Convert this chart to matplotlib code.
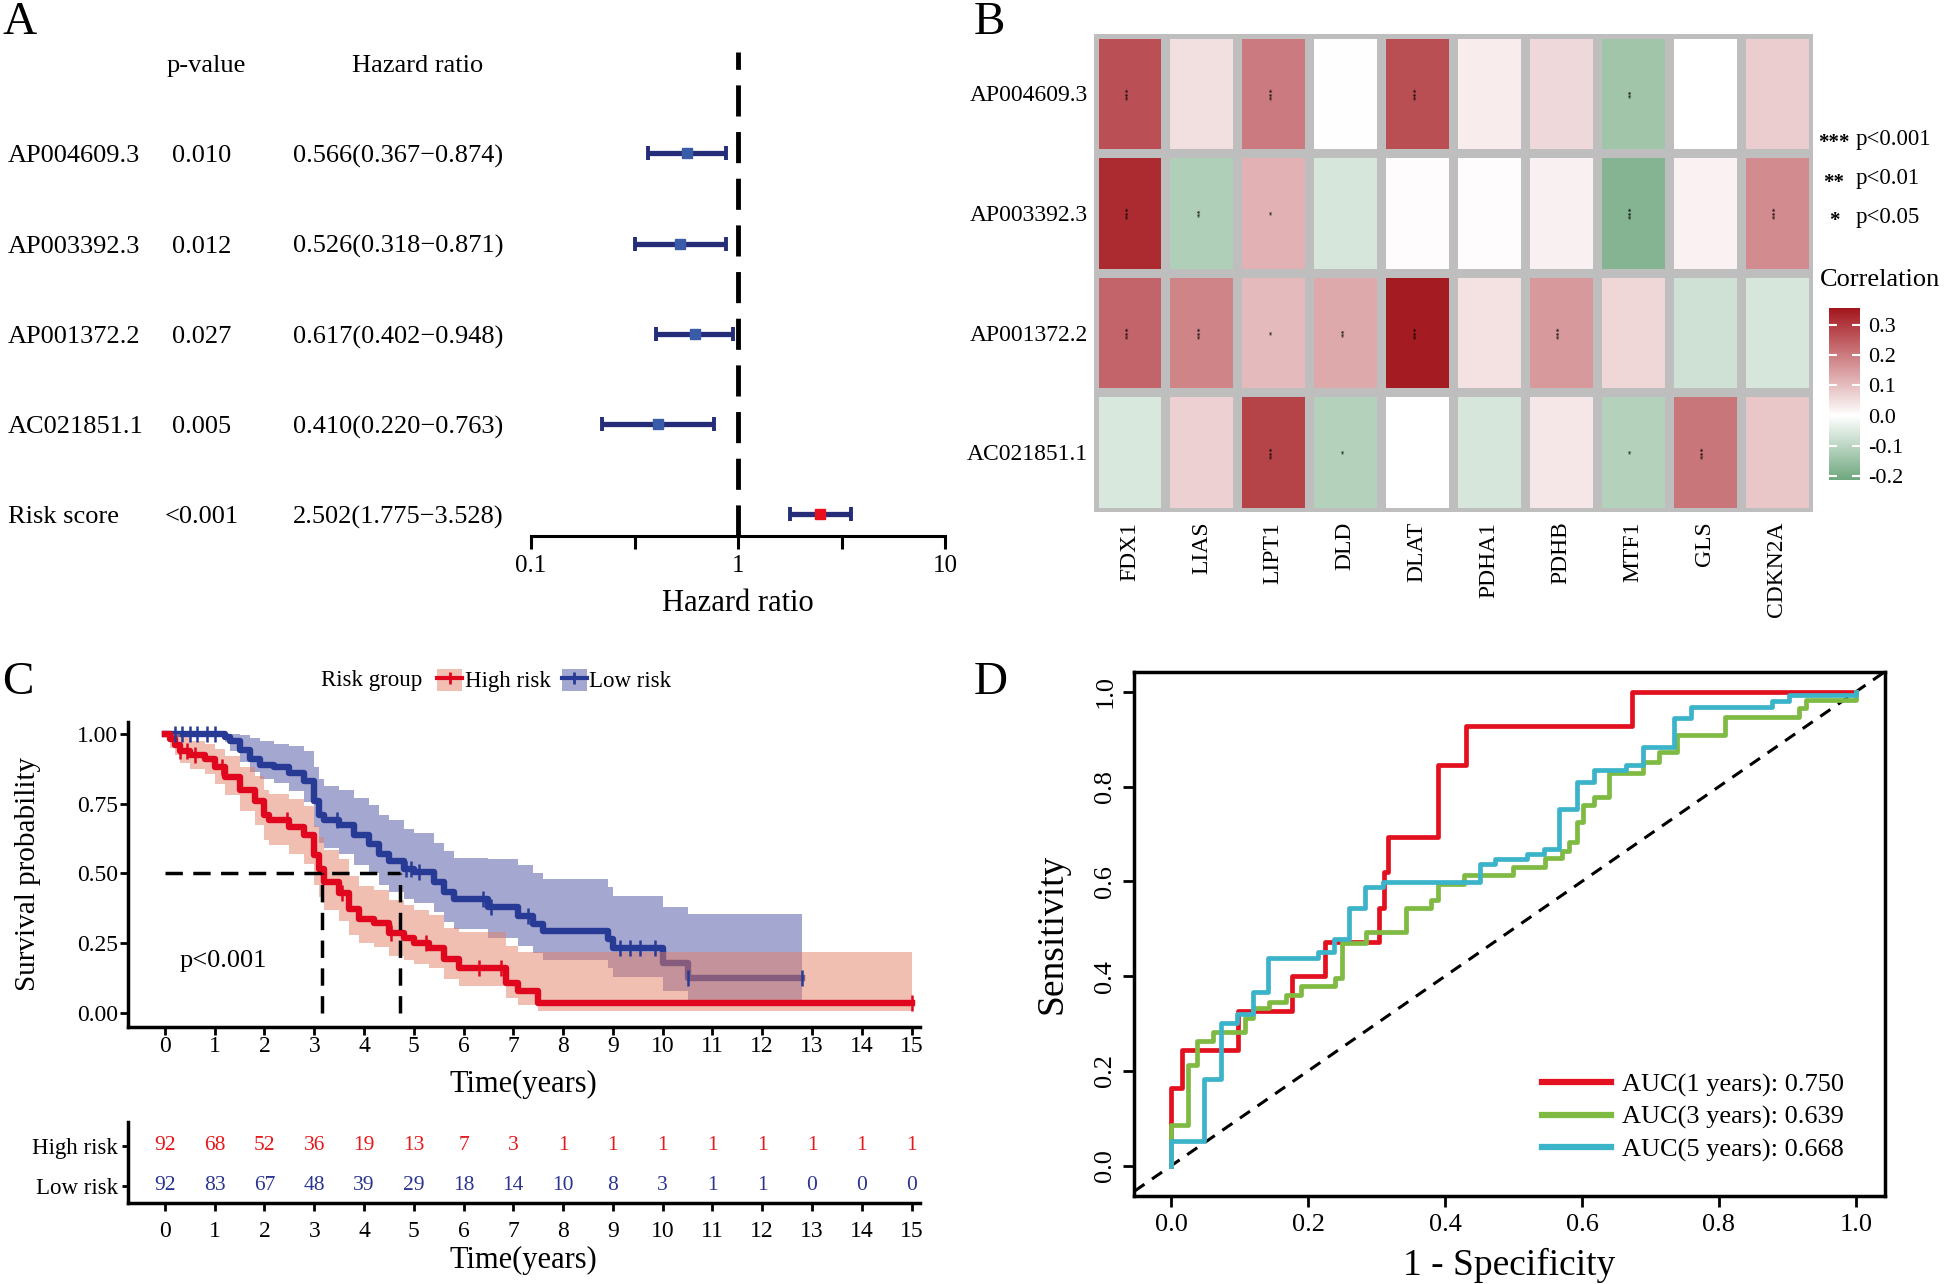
import matplotlib
matplotlib.use('Agg')
import matplotlib.pyplot as plt
import matplotlib.transforms as mtransforms
from matplotlib.colors import LinearSegmentedColormap, Normalize
from matplotlib.cm import ScalarMappable
from matplotlib.patches import Patch
from matplotlib.lines import Line2D
from matplotlib.ticker import FixedLocator, FixedFormatter, NullFormatter
import numpy as np

plt.rcParams['font.family'] = ['Liberation Serif', 'DejaVu Serif']

# ---------------- data ----------------
# A: multivariate Cox forest plot
forest_genes = ['AP004609.3', 'AP003392.3', 'AP001372.2', 'AC021851.1', 'Risk score']
forest_p = ['0.010', '0.012', '0.027', '0.005', '<0.001']
hr = [0.566, 0.526, 0.617, 0.410, 2.502]
hr_lo = [0.367, 0.318, 0.402, 0.220, 1.775]
hr_hi = [0.874, 0.871, 0.948, 0.763, 3.528]

# B: correlation heatmap
row_genes = ['AP004609.3', 'AP003392.3', 'AP001372.2', 'AC021851.1']
col_genes = ['FDX1', 'LIAS', 'LIPT1', 'DLD', 'DLAT', 'PDHA1', 'PDHB', 'MTF1', 'GLS', 'CDKN2A']
corr = np.array([
    [0.267, 0.049, 0.200, 0.003, 0.270, 0.029, 0.060, -0.140, 0.000, 0.076],
    [0.323, -0.116, 0.119, -0.060, 0.005, 0.005, 0.023, -0.180, 0.020, 0.175],
    [0.236, 0.188, 0.105, 0.131, 0.346, 0.044, 0.156, 0.062, -0.070, -0.060],
    [-0.055, 0.072, 0.284, -0.110, 0.000, -0.060, 0.038, -0.110, 0.209, 0.088],
])
stars = [
    ['***', '', '***', '', '***', '', '', '**', '', ''],
    ['***', '**', '*', '', '', '', '', '***', '', '***'],
    ['***', '***', '*', '**', '***', '', '***', '', '', ''],
    ['', '', '***', '*', '', '', '', '*', '***', ''],
]

# C: Kaplan-Meier
high_t = [0, 0.1, 0.2, 0.3, 0.5, 0.8, 1.0, 1.2, 1.5, 1.8, 2.0, 2.1, 2.5, 2.8, 3.0, 3.1,
          3.2, 3.5, 3.7, 3.9, 4.2, 4.5, 4.8, 5.0, 5.3, 5.6, 5.9, 6.85, 7.1, 7.5, 15.0]
high_s = [1.0, 0.98, 0.96, 0.94, 0.925, 0.91, 0.88, 0.846, 0.80, 0.76, 0.71, 0.69, 0.666, 0.636,
          0.565, 0.517, 0.47, 0.43, 0.372, 0.336, 0.324, 0.288, 0.27, 0.252, 0.234, 0.192, 0.162,
          0.108, 0.078, 0.036, 0.036]
high_up = [1.0, 1.0, 1.0, 0.99, 0.975, 0.965, 0.945, 0.92, 0.88, 0.85, 0.80, 0.785, 0.765, 0.74,
           0.67, 0.63, 0.585, 0.55, 0.49, 0.455, 0.44, 0.405, 0.385, 0.37, 0.35, 0.305, 0.29,
           0.24, 0.22, 0.218, 0.218]
high_lo = [1.0, 0.95, 0.925, 0.895, 0.875, 0.855, 0.82, 0.78, 0.725, 0.675, 0.62, 0.60, 0.57,
           0.535, 0.46, 0.415, 0.37, 0.33, 0.28, 0.25, 0.235, 0.205, 0.19, 0.175, 0.16, 0.12,
           0.095, 0.055, 0.03, 0.006, 0.006]
low_t = [0, 1.2, 1.3, 1.5, 1.7, 1.9, 2.2, 2.5, 2.8, 3.0, 3.1, 3.2, 3.5, 3.8, 4.1, 4.3, 4.5,
         4.8, 5.0, 5.4, 5.6, 5.8, 6.5, 7.1, 7.4, 7.6, 8.9, 9.0, 10.0, 10.5, 12.8]
low_s = [1.0, 0.99, 0.973, 0.942, 0.91, 0.89, 0.88, 0.86, 0.83, 0.76, 0.71, 0.69, 0.673, 0.636,
         0.606, 0.57, 0.546, 0.516, 0.504, 0.468, 0.432, 0.408, 0.378, 0.348, 0.318, 0.294,
         0.264, 0.234, 0.18, 0.126, 0.126]
low_up = [1.0, 1.0, 1.0, 0.995, 0.985, 0.975, 0.965, 0.955, 0.94, 0.88, 0.84, 0.815, 0.80,
          0.77, 0.745, 0.71, 0.69, 0.66, 0.645, 0.61, 0.58, 0.555, 0.55, 0.53, 0.50, 0.48,
          0.45, 0.42, 0.38, 0.355, 0.355]
low_lo = [1.0, 0.97, 0.94, 0.90, 0.865, 0.84, 0.825, 0.795, 0.755, 0.665, 0.61, 0.59, 0.57,
          0.53, 0.50, 0.46, 0.435, 0.41, 0.395, 0.36, 0.325, 0.30, 0.27, 0.24, 0.215, 0.19,
          0.16, 0.13, 0.08, 0.036, 0.036]
high_cens = [0.3, 0.45, 0.6, 1.15, 2.45, 3.55, 4.55, 5.25, 6.3, 6.75, 15.0]
low_cens = [0.2, 0.35, 0.5, 0.65, 0.85, 1.0, 3.45, 4.85, 4.95, 5.1, 6.4, 6.55, 7.3,
            9.15, 9.35, 9.55, 9.85, 10.5, 12.8]
median_high, median_low = 3.15, 4.73
table_times = list(range(16))
high_risk_n = [92, 68, 52, 36, 19, 13, 7, 3, 1, 1, 1, 1, 1, 1, 1, 1]
low_risk_n = [92, 83, 67, 48, 39, 29, 18, 14, 10, 8, 3, 1, 1, 0, 0, 0]

# D: time-dependent ROC (step corners)
roc1_x = [0, 0.016, 0.097, 0.177, 0.225, 0.304, 0.311, 0.316, 0.39, 0.431, 0.673, 1.0]
roc1_y = [0, 0.164, 0.243, 0.326, 0.40, 0.472, 0.543, 0.619, 0.693, 0.846, 0.927, 1.0]
roc3_x = [0, 0.025, 0.037, 0.061, 0.108, 0.119, 0.143, 0.168, 0.189, 0.239, 0.249, 0.285,
          0.343, 0.38, 0.39, 0.428, 0.499, 0.546, 0.571, 0.581, 0.592, 0.602, 0.617, 0.64,
          0.689, 0.712, 0.739, 0.809, 0.917, 0.927, 1.0, 1.0]
roc3_y = [0, 0.085, 0.212, 0.262, 0.282, 0.312, 0.332, 0.346, 0.361, 0.379, 0.396, 0.469,
          0.494, 0.544, 0.561, 0.594, 0.614, 0.631, 0.649, 0.664, 0.684, 0.726, 0.762, 0.779,
          0.829, 0.853, 0.873, 0.91, 0.946, 0.966, 0.982, 1.0]
roc5_x = [0, 0.048, 0.073, 0.096, 0.119, 0.141, 0.214, 0.237, 0.26, 0.283, 0.309, 0.451,
          0.473, 0.52, 0.544, 0.567, 0.592, 0.617, 0.664, 0.689, 0.735, 0.759, 0.878, 0.903,
          1.0, 1.0]
roc5_y = [0, 0.053, 0.183, 0.30, 0.321, 0.367, 0.439, 0.45, 0.478, 0.543, 0.589, 0.599,
          0.636, 0.647, 0.657, 0.669, 0.753, 0.81, 0.836, 0.846, 0.884, 0.944, 0.968, 0.98,
          0.993, 1.0]
roc_labels = ['AUC(1 years): 0.750', 'AUC(3 years): 0.639', 'AUC(5 years): 0.668']

# ---------------- figure ----------------
W, H = 1944, 1284
fig = plt.figure(figsize=(W / 100, H / 100), dpi=100)


def box(l, t, r, b):
    # pixel box -> figure rect
    return [l / W, 1 - b / H, (r - l) / W, (b - t) / H]


def fx(px):
    return px / W


def fy(py):
    return 1 - py / H


red = '#e0061d'
blue = '#263a96'
navy = '#252d78'

# panel letters
for letter, x, y in [('A', 2, 2), ('B', 974, 2), ('C', 2, 662), ('D', 974, 662)]:
    fig.text(fx(x), fy(y), letter, fontsize=34, ha='left', va='top')

# ---- A: forest plot ----
axA = fig.add_axes(box(531, 45, 945, 536))
axA.set_xscale('log')
axA.set_xlim(0.1, 10)
axA.set_ylim(0.76, 6.2)
ypos = np.arange(len(forest_genes), 0, -1)
for i, y in enumerate(ypos):
    axA.errorbar(hr[i], y, xerr=[[hr[i] - hr_lo[i]], [hr_hi[i] - hr[i]]], fmt='none',
                 ecolor=navy, elinewidth=3.8, capsize=5, capthick=2.8, zorder=3)
    mcol = '#e8101c' if forest_genes[i] == 'Risk score' else '#3a5ca8'
    axA.plot(hr[i], y, 's', color=mcol, ms=7.5, zorder=4)
axA.plot([1, 1], [0.76, 6.12], color='black', lw=3.5, ls=(0, (6.4, 3.2)), zorder=2)
for s in ['top', 'left', 'right']:
    axA.spines[s].set_visible(False)
axA.spines['bottom'].set_linewidth(2.2)
axA.xaxis.set_major_locator(FixedLocator([0.1, 1, 10]))
axA.xaxis.set_major_formatter(FixedFormatter(['0.1', '1', '10']))
axA.xaxis.set_minor_locator(FixedLocator([10 ** -0.5, 10 ** 0.5]))
axA.xaxis.set_minor_formatter(NullFormatter())
axA.tick_params(axis='x', which='both', length=9, width=2.2, direction='out', labelsize=18, pad=5)
axA.set_yticks([])
axA.set_xlabel('Hazard ratio', fontsize=22, labelpad=8)

trA = mtransforms.blended_transform_factory(fig.transFigure, axA.transData)
row_dy = -0.035  # text sits a touch below the bar centre
axA.text(fx(206), 6 + row_dy, 'p-value', transform=trA, fontsize=19, ha='center', va='center')
axA.text(fx(418), 6 + row_dy, 'Hazard ratio', transform=trA, fontsize=19, ha='center', va='center')
for i, y in enumerate(ypos):
    axA.text(fx(8), y + row_dy, forest_genes[i], transform=trA, fontsize=19, ha='left', va='center')
    axA.text(fx(202), y + row_dy, forest_p[i], transform=trA, fontsize=19, ha='center', va='center')
    axA.text(fx(293), y + row_dy, '%.3f(%.3f\u2212%.3f)' % (hr[i], hr_lo[i], hr_hi[i]),
             transform=trA, fontsize=19, ha='left', va='center')

# ---- B: heatmap ----
cvmin, cvmax = -0.212, 0.357
f0 = -cvmin / (cvmax - cvmin)
cmap = LinearSegmentedColormap.from_list('gwr', [(0, '#6fa77e'), (f0, '#ffffff'), (1, '#a3151c')])
norm = Normalize(cvmin, cvmax)

axB = fig.add_axes(box(1093.5, 33.5, 1812.6, 512))
axB.set_facecolor('#bebebe')
axB.pcolormesh(np.arange(len(col_genes) + 1), np.arange(len(row_genes) + 1), corr,
               cmap=cmap, norm=norm, edgecolors='#bebebe', linewidth=6.2)
axB.set_xlim(0, len(col_genes))
axB.set_ylim(len(row_genes), 0)
for s in axB.spines.values():
    s.set_visible(False)
axB.set_xticks(np.arange(len(col_genes)) + 0.5)
axB.set_xticklabels(col_genes, rotation=90, fontsize=17)
axB.set_yticks(np.arange(len(row_genes)) + 0.5)
axB.set_yticklabels(row_genes, fontsize=17)
axB.tick_params(axis='both', length=0)
axB.tick_params(axis='x', pad=7)
axB.tick_params(axis='y', pad=4)
for i in range(len(row_genes)):
    for j in range(len(col_genes)):
        if stars[i][j]:
            axB.text(j + 0.5, i + 0.5, stars[i][j], fontsize=6, rotation=90,
                     ha='center', va='center', color='black')

for lab, txt, y in [('***', 'p<0.001', 139), ('**', 'p<0.01', 178.5), ('*', 'p<0.05', 217)]:
    fig.text(fx(1834), fy(y + 4), lab, fontsize=15, ha='center', va='center', fontweight='bold')
    fig.text(fx(1856), fy(y), txt, fontsize=16.5, ha='left', va='center')
fig.text(fx(1820), fy(280), 'Correlation', fontsize=19, ha='left', va='center')

cax = fig.add_axes(box(1829, 307.5, 1860, 480))
cb = fig.colorbar(ScalarMappable(norm=norm, cmap=cmap), cax=cax,
                  ticks=[-0.2, -0.1, 0.0, 0.1, 0.2, 0.3])
cb.ax.set_yticklabels(['-0.2', '-0.1', '0.0', '0.1', '0.2', '0.3'])
cb.outline.set_visible(False)
cax.tick_params(axis='y', direction='in', color='white', length=6, width=1.5,
                left=True, right=True, labelsize=16, pad=6)

# ---- C: Kaplan-Meier ----
axC = fig.add_axes(box(127.7, 721.6, 920, 1026.6))
axC.set_xlim(-0.748, 15.17)
axC.set_ylim(-0.049, 1.044)
red_band = '#e57e66'
blue_band = '#4b51a0'
axC.fill_between(low_t, low_lo, low_up, step='post', color=blue_band, alpha=0.5, lw=0, zorder=1)
axC.step(low_t, low_s, where='post', color=blue, lw=4.6, zorder=2)
axC.fill_between(high_t, high_lo, high_up, step='post', color=red_band, alpha=0.5, lw=0, zorder=3)
axC.step(high_t, high_s, where='post', color=red, lw=4.6, zorder=4)


def surv_at(times, surv, t):
    idx = np.searchsorted(times, t, side='right') - 1
    return np.array(surv)[idx]


axC.plot(high_cens, surv_at(high_t, high_s, high_cens), '|', color=red, ms=11, mew=1.8, zorder=5)
axC.plot(low_cens, surv_at(low_t, low_s, low_cens), '|', color=blue, ms=11, mew=1.8, zorder=5)
axC.plot([0, median_low], [0.5, 0.5], color='black', lw=2.5, ls=(0, (5, 3)), zorder=6)
axC.plot([median_high, median_high], [0, 0.5], color='black', lw=2.5, ls=(0, (5, 3)), zorder=6)
axC.plot([median_low, median_low], [0, 0.5], color='black', lw=2.5, ls=(0, (5, 3)), zorder=6)
axC.text(0.3, 0.187, 'p<0.001', fontsize=19, ha='left', va='center')
for s in ['top', 'right']:
    axC.spines[s].set_visible(False)
for s in ['left', 'bottom']:
    axC.spines[s].set_linewidth(2.5)
axC.set_xticks(table_times)
axC.set_yticks([0, 0.25, 0.5, 0.75, 1.0])
axC.set_yticklabels(['0.00', '0.25', '0.50', '0.75', '1.00'])
axC.tick_params(axis='both', length=6, width=2, labelsize=17, pad=1)
axC.set_xlabel('Time(years)', fontsize=22, labelpad=9)
axC.set_ylabel('Survival probability', fontsize=21, labelpad=26)

fig.text(fx(321), fy(680.6), 'Risk group', fontsize=16.5, ha='left', va='center')
handles = [(Patch(facecolor=red_band, alpha=0.5), Line2D([], [], color=red, lw=3, marker='+', ms=9, mew=2)),
           (Patch(facecolor=blue_band, alpha=0.5), Line2D([], [], color=blue, lw=3, marker='+', ms=9, mew=2))]
fig.legend(handles, ['High risk', 'Low risk'], loc='center left',
           bbox_to_anchor=(fx(437), fy(680.6)), ncol=2, frameon=False, fontsize=16.5,
           handlelength=1.1, handleheight=1.1, handletextpad=0.1, columnspacing=0.5,
           borderaxespad=0, borderpad=0)

# risk table
axT = fig.add_axes(box(127.7, 1122, 920, 1202.6))
axT.set_xlim(-0.748, 15.17)
axT.set_ylim(-0.43, 1.6)
for t, n in zip(table_times, high_risk_n):
    axT.text(t, 1, str(n), color='#e41a1c', fontsize=15.5, ha='center', va='center')
for t, n in zip(table_times, low_risk_n):
    axT.text(t, 0, str(n), color='#2b3590', fontsize=15.5, ha='center', va='center')
for s in ['top', 'right']:
    axT.spines[s].set_visible(False)
for s in ['left', 'bottom']:
    axT.spines[s].set_linewidth(2.5)
axT.set_xticks(table_times)
axT.set_yticks([1, 0])
axT.set_yticklabels(['High risk', 'Low risk'])
axT.tick_params(axis='x', length=6, width=2, labelsize=17, pad=7)
axT.tick_params(axis='y', length=4, width=2, labelsize=16.5, pad=3)
axT.set_xlabel('Time(years)', fontsize=22, labelpad=3)

# ---- D: ROC ----
axD = fig.add_axes(box(1134.4, 672, 1884.5, 1196.4))
axD.set_xlim(-0.054, 1.042)
axD.set_ylim(-0.065, 1.042)
axD.axline((0, 0), (1, 1), color='black', lw=2.2, ls=(0, (4, 3)), zorder=1)
roc_colors = ['#e3111f', '#7fba43', '#3bb4c9']
for xs, ys, c, lab in zip([roc1_x, roc3_x, roc5_x], [roc1_y, roc3_y, roc5_y], roc_colors, roc_labels):
    axD.step(xs, ys, where='pre', color=c, lw=3.4, label=lab, zorder=3)
for s in axD.spines.values():
    s.set_linewidth(2.5)
ticksD = [0, 0.2, 0.4, 0.6, 0.8, 1.0]
axD.set_xticks(ticksD)
axD.set_xticklabels(['0.0', '0.2', '0.4', '0.6', '0.8', '1.0'])
axD.set_yticks(ticksD)
axD.set_yticklabels(['0.0', '0.2', '0.4', '0.6', '0.8', '1.0'], rotation=90, va='center')
axD.tick_params(axis='both', length=8, width=2, labelsize=19, pad=5)
axD.set_xlabel('1 - Specificity', fontsize=27, labelpad=8)
axD.set_ylabel('Sensitivity', fontsize=27, labelpad=18)
leg = axD.legend(loc='upper left', bbox_to_anchor=(fx(1542), fy(1073)), bbox_transform=fig.transFigure,
                 frameon=False, fontsize=19, handlelength=2.6, handletextpad=0.45, labelspacing=0.32,
                 borderpad=0, borderaxespad=0)
for ln in leg.get_lines():
    ln.set_linewidth(4.5)

fig.savefig('out.png', dpi=100)
